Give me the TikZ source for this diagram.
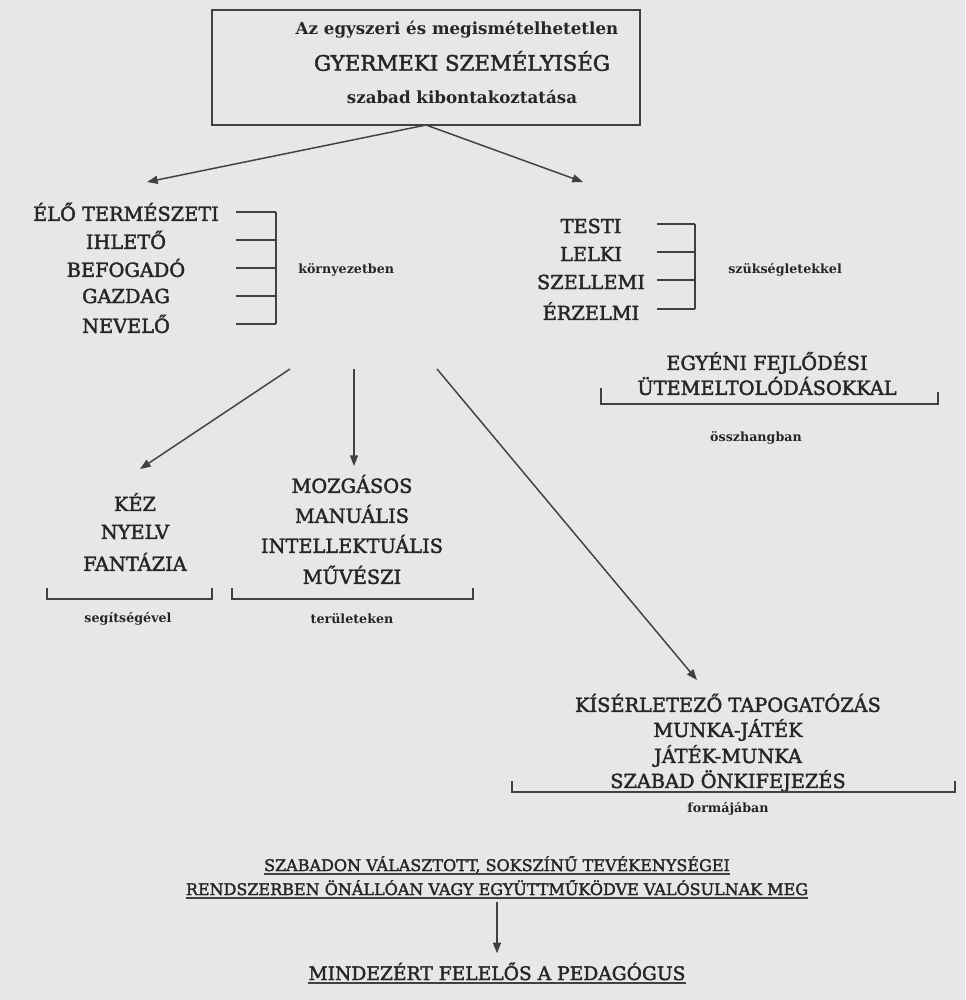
\documentclass[tikz,border=0pt]{standalone}
\usepackage{fontspec}
\setmainfont{DejaVu Serif}
\newfontfamily\capsfont[FakeBold=2]{DejaVu Serif}
\usetikzlibrary{arrows.meta}
\definecolor{bg}{RGB}{231,231,231}
\definecolor{ink}{RGB}{38,38,38}
\definecolor{ln}{RGB}{65,65,65}
\begin{document}
\begin{tikzpicture}[x=0.75pt,y=-0.75pt,
  caps/.style={text=ink,inner sep=0pt,font=\capsfont\fontsize{14.5}{17}\selectfont},
  big/.style={text=ink,inner sep=0pt,font=\capsfont\fontsize{16}{18}\selectfont},
  bot/.style={text=ink,inner sep=0pt,font=\capsfont\fontsize{12}{14}\selectfont},
  lab/.style={text=ink,inner sep=0pt,font=\bfseries\fontsize{9.5}{11}\selectfont},
  hlab/.style={text=ink,inner sep=0pt,font=\bfseries\fontsize{12.5}{14}\selectfont},
  conn/.style={draw=ln,line width=1.1pt,-{Triangle[length=8pt,width=6pt]}},
  brk/.style={draw=ln,line width=1.1pt}]
\fill[bg] (0,0) rectangle (965,1000);
\useasboundingbox (0,0) rectangle (965,1000);

% title box
\node[draw=ln,line width=1.1pt,minimum width=321pt,minimum height=86.25pt,inner sep=0pt] (box) at (426,67.5) {};
\node[hlab] (t1) at (457,30) {Az egyszeri és megismételhetetlen};
\node[big] (t2) at (462,61) {GYERMEKI SZEMÉLYISÉG};
\node[hlab] (t3) at (462,97) {szabad kibontakoztatása};

\coordinate (o) at (426,125);
\coordinate (aL) at (147,182);
\coordinate (aR) at (583,182);
\draw[conn] (o) -- (aL);
\draw[conn] (o) -- (aR);

% left list
\node[caps] (l1) at (126,212) {ÉLŐ TERMÉSZETI};
\node[caps] (l2) at (126,240) {IHLETŐ};
\node[caps] (l3) at (126,268) {BEFOGADÓ};
\node[caps] (l4) at (126,296) {GAZDAG};
\node[caps] (l5) at (126,324) {NEVELŐ};
\foreach \y in {212,240,268,296,324} \draw[brk] (236,\y) -- (276,\y);
\draw[brk] (276,212) -- (276,324);
\node[lab,anchor=west] (kor) at (298,270) {környezetben};

% right list
\node[caps] (r1) at (591,226) {TESTI};
\node[caps] (r2) at (591,254) {LELKI};
\node[caps] (r3) at (591,282) {SZELLEMI};
\node[caps] (r4) at (591,311) {ÉRZELMI};
\foreach \y in {224,252,280,309} \draw[brk] (657,\y) -- (695,\y);
\draw[brk] (695,224) -- (695,309);
\node[lab,anchor=west] (szuk) at (728,270) {szükségletekkel};

\node[caps] (e1) at (767,363) {EGYÉNI FEJLŐDÉSI};
\node[caps] (e2) at (767,386) {ÜTEMELTOLÓDÁSOKKAL};
\draw[brk] (601,388) -- (601,404) -- (938,404) -- (938,392);
\node[lab] (ossz) at (756,438) {összhangban};

% three arrows
\coordinate (s1) at (290,369);
\coordinate (s2) at (354,369);
\coordinate (s3) at (437,369);
\coordinate (d1) at (140,469);
\coordinate (d2) at (354,466);
\coordinate (d3) at (697,680);
\draw[conn] (s1) -- (d1);
\draw[conn] (s2) -- (d2);
\draw[conn] (s3) -- (d3);

% lower left
\node[caps] (k1) at (135,502) {KÉZ};
\node[caps] (k2) at (135,532) {NYELV};
\node[caps] (k3) at (135,562) {FANTÁZIA};
\draw[brk] (47,588) -- (47,599) -- (212,599) -- (212,588);
\node[lab] (seg) at (128,619) {segítségével};

\node[caps] (m1) at (352,484) {MOZGÁSOS};
\node[caps] (m2) at (352,514) {MANUÁLIS};
\node[caps] (m3) at (352,544) {INTELLEKTUÁLIS};
\node[caps] (m4) at (352,575) {MŰVÉSZI};
\draw[brk] (232,588) -- (232,599) -- (473,599) -- (473,588);
\node[lab] (ter) at (352,619) {területeken};

% lower right
\node[caps] (j1) at (728,703) {KÍSÉRLETEZŐ TAPOGATÓZÁS};
\node[caps] (j2) at (728,730) {MUNKA-JÁTÉK};
\node[caps] (j3) at (728,756) {JÁTÉK-MUNKA};
\node[caps] (j4) at (728,781) {SZABAD ÖNKIFEJEZÉS};
\draw[brk] (512,781) -- (512,792) -- (955,792) -- (955,781);
\node[lab] (form) at (728,809) {formájában};

% bottom
\node[bot,anchor=base] (b1) at (497,871) {SZABADON VÁLASZTOTT, SOKSZÍNŰ TEVÉKENYSÉGEI};
\draw[ln,line width=0.9pt] ([yshift=-2.2pt]b1.base west) -- ([yshift=-2.2pt]b1.base east);
\node[bot,anchor=base] (b2) at (497,895) {RENDSZERBEN ÖNÁLLÓAN VAGY EGYÜTTMŰKÖDVE VALÓSULNAK MEG};
\draw[ln,line width=0.9pt] ([yshift=-2.2pt]b2.base west) -- ([yshift=-2.2pt]b2.base east);
\node[bot,font=\capsfont\fontsize{14}{16}\selectfont,anchor=base] (b3) at (497,980) {MINDEZÉRT FELELŐS A PEDAGÓGUS};
\draw[ln,line width=0.9pt] ([yshift=-2.2pt]b3.base west) -- ([yshift=-2.2pt]b3.base east);
\draw[conn] ([yshift=-5pt]b2.base) -- ([yshift=20pt]b3.base);
\end{tikzpicture}
\end{document}
